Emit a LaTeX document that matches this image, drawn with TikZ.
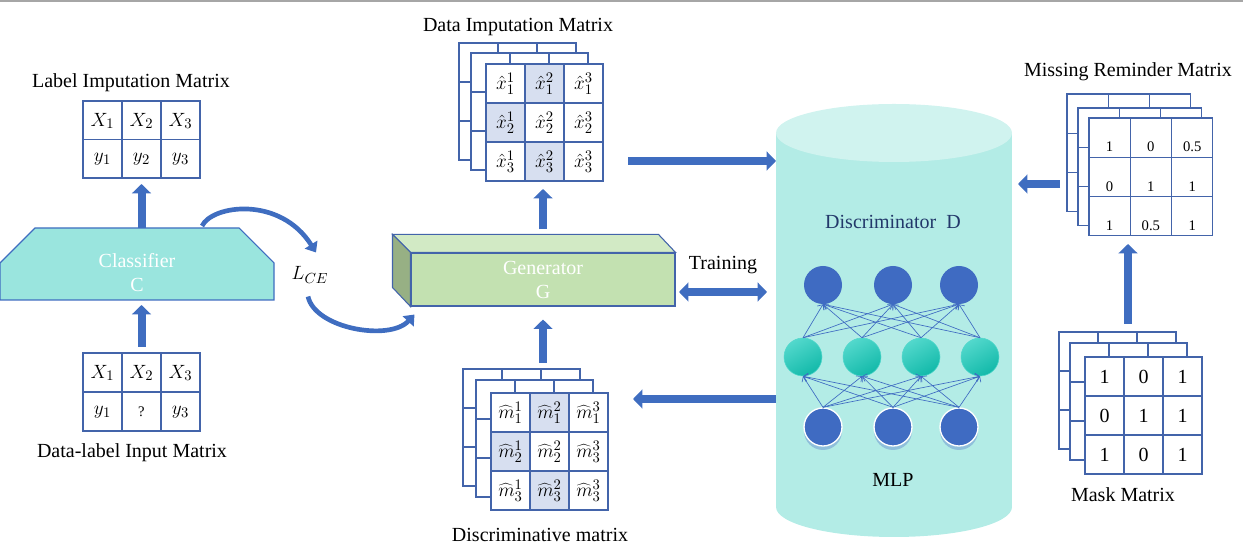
\documentclass[tikz,border=0pt]{standalone}
\usepackage{fontspec}
\setmainfont{Liberation Serif}
\usetikzlibrary{arrows.meta,calc,shadows}

\definecolor{arrowblue}{HTML}{3F6DC0}
\definecolor{gridblue}{HTML}{4364AA}
\definecolor{cellshade}{HTML}{D7DFF0}
\definecolor{clsfill}{HTML}{9AE5DE}
\definecolor{genfront}{HTML}{C3E1B1}
\definecolor{gentop}{HTML}{D2EAC5}
\definecolor{genside}{HTML}{97B084}
\definecolor{cylbody}{HTML}{B3ECE6}
\definecolor{cyltop}{HTML}{D0F3EF}
\definecolor{nodeblue}{HTML}{3F6BC2}
\definecolor{hidteal}{HTML}{12B9A9}
\definecolor{hidlight}{HTML}{52D8CC}
\definecolor{distext}{HTML}{22386A}

\tikzset{
  lbl/.style={font=\fontsize{15}{18}\selectfont, inner sep=0pt},
  smalllbl/.style={font=\fontsize{11}{13}\selectfont, inner sep=0pt},
  cell/.style={draw=gridblue, line width=0.8pt, fill=white},
  blockarrow/.style={draw=arrowblue, line width=6pt, -{Triangle[length=7pt,width=14pt]}},
  dblarrow/.style={draw=arrowblue, line width=6pt, {Triangle[length=7pt,width=14pt]}-{Triangle[length=7pt,width=14pt]}},
  curvearrow/.style={draw=arrowblue, line width=3.5pt, -{Triangle[length=7pt,width=11pt]}},
  neuron/.style={circle, fill=nodeblue, minimum size=28.5pt, inner sep=0pt},
  hid/.style={circle, top color=hidlight, bottom color=hidteal, shading angle=30, draw=hidlight, minimum size=28.5pt, inner sep=0pt},
  inlayer/.style={draw=white, line width=1pt, drop shadow={shadow xshift=0pt, shadow yshift=-3pt, fill=nodeblue!80, opacity=0.45}},
  synapse/.style={draw=nodeblue, line width=0.5pt, -{Straight Barb[length=3pt]}}
}

\begin{document}
\begin{tikzpicture}[x=0.75pt, y=-0.75pt]
    \useasboundingbox (0,0) rectangle (1243,555);
    \fill[gray!70] (0,0) rectangle (1243,2.5);

    % Classifier
    \draw[draw=arrowblue, line width=0.8pt, fill=clsfill] (0,300) -- (0,263) -- (35,228) -- (239,228) -- (274,263) -- (274,300) -- cycle;
    \coordinate (clf-n) at (137,228);
    \coordinate (clf-s) at (137,300);
    \node[lbl, text=white, align=center] (clf) at (137,272.5) {Classifier\\C};

    % Label Imputation Matrix
    \node[lbl] (lim-t) at (131,83) {Label Imputation Matrix};
    \begin{scope}[shift={(83,101)}]
        \foreach \i in {0,1,2}
            \foreach \j in {0,1}
                \draw[cell] ({39*\i},{38.5*\j}) rectangle +(39,38.5);
        \foreach \t [count=\k from 0] in {X_1,X_2,X_3,y_1,y_2,y_3}
            \node[lbl] (lim-\k) at ({39*mod(\k,3)+19.5},{38.5*int(\k/3)+20}) {$\t$};
        \coordinate (lim-s) at (58.5,77);
    \end{scope}

    % Data-label Input Matrix
    \node[lbl] (dlm-t) at (132,453) {Data-label Input Matrix};
    \begin{scope}[shift={(83,353)}]
        \foreach \i in {0,1,2}
            \foreach \j in {0,1}
                \draw[cell] ({39*\i},{39*\j}) rectangle +(39,39);
        \foreach \t [count=\k from 0] in {{$X_1$},{$X_2$},{$X_3$},{$y_1$},{\fontsize{11}{13}\selectfont ?},{$y_3$}}
            \node[lbl] (dlm-\k) at ({39*mod(\k,3)+19.5},{39*int(\k/3)+20}) {\t};
        \coordinate (dlm-n) at (58.5,0);
    \end{scope}

    % Generator
    \node[lbl, draw=gridblue, line width=0.8pt, fill=genfront, text=white, align=center,
          minimum width=198pt, minimum height=39.75pt] (gen) at (543,279.5) {Generator\\G};
    \draw[draw=gridblue, line width=0.8pt, fill=gentop] (gen.north west) -- ++(-18,-18) -- ($(gen.north east)+(-17,-18)$) -- (gen.north east) -- cycle;
    \draw[draw=gridblue, line width=0.8pt, fill=genside] (gen.north west) -- ++(-18,-18) -- ++(0,53) -- (gen.south west) -- cycle;
    \node[lbl] (lce) at (310,275) {$L_{CE}$};

    % Data Imputation Matrix
    \node[lbl] (dim-t) at (518,27) {Data Imputation Matrix};
    \begin{scope}[shift={(486,64)}]
        \foreach \dx/\dy in {-27/-21,-15/-11,0/0}
            \foreach \i in {0,1,2}
                \foreach \j in {0,1,2}
                    \draw[cell] ({\dx+39*\i},{\dy+39*\j}) rectangle +(39,39);
        \foreach \k in {1,3,7}
            \draw[cell, fill=cellshade] ({39*mod(\k,3)},{39*int(\k/3)}) rectangle +(39,39);
        \foreach \t [count=\k from 0] in {\hat{x}^1_1,\hat{x}^2_1,\hat{x}^3_1,\hat{x}^1_2,\hat{x}^2_2,\hat{x}^3_2,\hat{x}^1_3,\hat{x}^2_3,\hat{x}^3_3}
            \node[lbl] (dim-\k) at ({39*mod(\k,3)+19.5},{39*int(\k/3)+19.5}) {$\t$};
        \coordinate (dim-s) at (58.5,117);
    \end{scope}

    % Discriminative matrix
    \node[lbl] (dsm-t) at (540,535) {Discriminative matrix};
    \begin{scope}[shift={(491,393)}]
        \foreach \dx/\dy in {-28/-24,-15/-13,0/0}
            \foreach \i in {0,1,2}
                \foreach \j in {0,1,2}
                    \draw[cell] ({\dx+39*\i},{\dy+39*\j}) rectangle +(39,39);
        \foreach \k in {1,3,7}
            \draw[cell, fill=cellshade] ({39*mod(\k,3)},{39*int(\k/3)}) rectangle +(39,39);
        \foreach \t [count=\k from 0] in {\widehat{m}^1_1,\widehat{m}^2_1,\widehat{m}^3_1,\widehat{m}^1_2,\widehat{m}^2_2,\widehat{m}^3_3,\widehat{m}^1_3,\widehat{m}^2_3,\widehat{m}^3_3}
            \node[lbl] (dsm-\k) at ({39*mod(\k,3)+19.5},{39*int(\k/3)+19.5}) {$\t$};
        \coordinate (dsm-n) at (58.5,0);
    \end{scope}

    % Discriminator
    \fill[cylbody] (776,133) rectangle (1012,507);
    \fill[cylbody] (894,507) ellipse [x radius=118, y radius=30];
    \fill[cyltop] (894,133) ellipse [x radius=118, y radius=29];
    \coordinate (dis-w) at (776,320);
    \coordinate (dis-e) at (1012,320);
    \node[lbl, text=distext] (dis) at (893,222) {Discriminator~ D};
    \node[lbl] (mlp) at (893,480) {MLP};

    % MLP
    \foreach \x [count=\k] in {823,893,959}
        \node[neuron] (o\k) at (\x,285) {};
    \foreach \x [count=\k] in {803,862,921,980}
        \node[hid] (h\k) at (\x,357) {};
    \foreach \x [count=\k] in {823,893,959}
        \node[neuron, inlayer] (i\k) at (\x,427) {};
    \foreach \a in {1,2,3}
        \foreach \b in {1,...,4}
            \draw[synapse] (i\a.north) -- (h\b.south);
    \foreach \a in {1,...,4}
        \foreach \b in {1,2,3}
            \draw[synapse] (h\a.north) -- (o\b.south);

    % Missing Reminder Matrix
    \node[lbl] (mrm-t) at (1128,72) {Missing Reminder Matrix};
    \begin{scope}[shift={(1089,118)}]
        \foreach \dx/\dy in {-22/-24,-11/-10,0/0}
            \foreach \i in {0,1,2}
                \foreach \j in {0,1,2}
                    \draw[cell] ({\dx+41.3*\i},{\dy+39.3*\j}) rectangle +(41.3,39.3);
        \foreach \t [count=\k from 0] in {1,0,0.5,0,1,1,1,0.5,1}
            \node[smalllbl] (mrm-\k) at ({41.3*mod(\k,3)+20.6},{39.3*int(\k/3)+29}) {\t};
        \coordinate (mrm-s) at (62,118);
    \end{scope}

    % Mask Matrix
    \node[lbl] (msk-t) at (1123,495) {Mask Matrix};
    \begin{scope}[shift={(1085,357)}]
        \foreach \dx/\dy in {-26/-25,-15/-14,0/0}
            \foreach \i in {0,1,2}
                \foreach \j in {0,1,2}
                    \draw[cell] ({\dx+39*\i},{\dy+39*\j}) rectangle +(39,39);
        \foreach \t [count=\k from 0] in {1,0,1,0,1,1,1,0,1}
            \node[lbl] (msk-\k) at ({39*mod(\k,3)+19.5},{39*int(\k/3)+20}) {\t};
        \coordinate (msk-out) at (43,-33);
    \end{scope}

    % Arrows
    \draw[blockarrow, shorten >=4.5pt] (clf-n -| lim-s) -- (lim-s);
    \draw[blockarrow, shorten <=4.5pt, shorten >=3.75pt] (dlm-n) -- (dlm-n |- clf-s);
    \draw[blockarrow, shorten <=17.25pt, shorten >=6pt] (gen.north) -- (gen.north |- dim-s);
    \draw[blockarrow, shorten <=22.5pt, shorten >=9.75pt] (gen.south |- dsm-n) -- (gen.south);
    \coordinate (dim-out) at (628,161);
    \coordinate (dsm-in) at (633,399);
    \coordinate (gen-io) at (679,292);
    \coordinate (mrm-out) at (1060,184);
    \draw[blockarrow] (dim-out) -- (dim-out -| dis-w);
    \draw[blockarrow] (dsm-in -| dis-w) -- (dsm-in);
    \draw[dblarrow, shorten >=6.75pt] (gen-io) -- (gen-io -| dis-w);
    \node[lbl] (trn) at (723,265) {Training};
    \draw[blockarrow, shorten >=4.5pt] (mrm-out) -- (mrm-out -| dis-e);
    \draw[blockarrow, shorten >=6pt] (msk-out) -- (msk-out |- mrm-s);

    % Loss
    \draw[curvearrow] ($(clf-n)+(65,-2)$) .. controls +(10,-21) and +(-36,-57) .. ($(lce.north)+(6,-14)$);
    \draw[curvearrow] ($(lce.south)+(-2,13)$) .. controls +(7,32) and +(-25,27) .. ($(gen.south west)+(4,8)$);
\end{tikzpicture}
\end{document}
